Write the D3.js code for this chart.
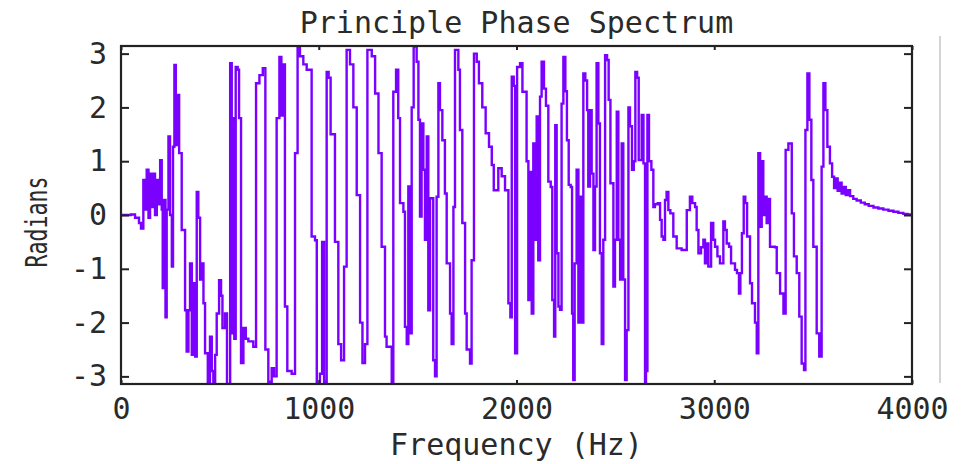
<!DOCTYPE html>
<html>
<head>
<meta charset="utf-8">
<script src="https://cdn.jsdelivr.net/npm/d3@7"></script>
<style>
  html, body { margin: 0; padding: 0; background: #ffffff; }
  svg { display: block; }
  text { font-family: "DejaVu Sans Mono", "Liberation Mono", monospace; fill: #2a2a2a; }
</style>
</head>
<body>
<svg id="chart" width="961" height="464"></svg>
<script>
// ---- data ----
const titleText = "Principle Phase Spectrum";
const xLabelText = "Frequency (Hz)";
const yLabelText = "Radians";
const xTickValues = [0, 1000, 2000, 3000, 4000];
const yTickValues = [-3, -2, -1, 0, 1, 2, 3];

const freqHz = [
  0, 50, 71, 91, 101, 113, 122, 130, 139, 147, 155, 164, 172, 181, 189, 198, 206, 211, 218, 225,
  231, 240, 248, 257, 263, 270, 277, 284, 294, 307, 324, 332, 341, 349, 358, 366, 375, 383, 391, 400,
  408, 417, 425, 439, 450, 459, 467, 476, 484, 496, 506, 513, 526, 536, 552, 560, 568, 573, 580, 590,
  597, 607, 619, 631, 644,
  669, 683, 700, 717, 730, 745, 762, 774, 787, 801, 811, 818, 829, 841, 863, 880, 893, 905, 922, 939,
  964, 981, 990, 1006, 1017, 1027, 1040, 1050, 1060, 1082, 1099, 1113, 1128, 1141, 1158, 1175, 1192, 1209, 1221, 1234,
  1246, 1268, 1285, 1302, 1318,
  1335, 1343, 1369, 1377, 1391, 1402, 1411, 1428, 1436, 1445, 1453, 1461, 1470, 1480, 1495, 1504, 1512, 1520, 1529, 1537,
  1546, 1554, 1563, 1579, 1588, 1596, 1605, 1613, 1625, 1638, 1647, 1664, 1672, 1681, 1689, 1706, 1714, 1726, 1740, 1748,
  1765, 1773, 1785, 1799, 1810, 1827, 1844, 1861, 1875, 1885, 1908, 1925, 1942, 1959, 1969, 1976, 1986, 1993, 2003,
  2018, 2030, 2051, 2060, 2068, 2077, 2085, 2094, 2102, 2110, 2119, 2127, 2139, 2149, 2161, 2173, 2181, 2190, 2196, 2203,
  2212, 2220, 2228, 2237, 2247, 2255, 2264, 2274, 2281, 2287, 2294, 2304, 2313, 2321, 2330, 2338, 2348, 2357, 2363, 2372,
  2380, 2389, 2397, 2405, 2414, 2422, 2431, 2439, 2448, 2458, 2466, 2475, 2490, 2498, 2507, 2515, 2524, 2532, 2540, 2549,
  2557, 2566, 2574, 2584, 2593, 2601, 2610, 2618, 2633, 2642, 2650, 2655, 2662, 2670, 2682, 2692,
  2700, 2714, 2726, 2734, 2743, 2751, 2759, 2768, 2778, 2793, 2810, 2835, 2861, 2877, 2889, 2903, 2911, 2920, 2933, 2945,
  2953, 2962, 2970, 2984, 2995, 3004, 3016, 3029, 3046, 3054, 3063, 3075, 3085, 3105, 3115, 3125, 3132, 3140, 3149, 3157,
  3166, 3181, 3191, 3206, 3215, 3223, 3232, 3240, 3248, 3257, 3265, 3274, 3282, 3307, 3316, 3333, 3350, 3361, 3375,
  3383, 3392, 3403, 3417, 3430, 3442, 3454, 3461, 3471, 3481, 3491, 3501, 3518, 3531, 3543, 3552, 3562, 3572, 3585, 3596,
  3606, 3616, 3624, 3634, 3644, 3655, 3665, 3675, 3687, 3703, 3720, 3741, 3761, 3781, 3805, 3830, 3855, 3881, 3906, 3931,
  3956, 3977, 4000
];

const phaseRad = [
  0, 0.01, -0.05, -0.15, -0.25, 0.65, 0.1, 0.84, -0.05, 0.77, 0.15, 0.77, 0.0, 0.65, 0.2, 1.02, 0.1, -1.36, 0.28, -1.9,
  0.1, 1.46, 0.0, -0.96, 1.27, 2.79, 1.3, 2.23, 1.15, -0.28, -1.77, -2.54, -1.77, -0.9, -2.6, -1.27, -2.63, 0.43, -0.05, -1.2,
  -0.9, -1.64, -2.57, -3.14, -2.26, -2.9, -3.14, -2.6, -1.83, -1.21, -1.5, -2.1, -1.83, -3.14, 2.82, -2.2, 1.8, -2.3, 2.75, 2.7,
  1.8, -2.75, -2.1, -2.3, -2.35,
  -2.45, 2.45, 2.6, 2.73, -2.5, -3.1, -2.85, -3.0, 1.8, 2.94, 1.85, 2.8, -1.7, -2.9, -2.95, 1.15, 3.13, 2.95, 2.8, 2.7,
  -0.4, -0.47, -3.14, -2.95, -0.5, -3.1, 2.66, 2.55, 1.5, -0.5, -2.4, -2.7, -0.96, 3.07, 2.8, 2.0, 0.37, -2.0, -2.75, -2.4,
  3.07, 2.95, 2.26, 1.15, -0.59,
  -2.26, -2.45, -3.14, 2.29, 2.7, 1.8, 0.22, 0.06, -2.08, -2.4, 0.53, -2.2, 2.0, 3.13, 2.85, 1.77, -0.03, 1.7, 0.84, -0.46,
  1.46, -1.77, 0.31, -2.7, -3.0, 0.34, 2.45, 1.95, 1.39, 0.4, -0.9, -1.83, -2.4, 0.15, 3.07, 2.7, 1.58, -0.15, -1.83, -2.5,
  -2.76, -0.84, 3.0, 2.85, 2.45, 2.0, 1.52, 1.27, 0.93, 0.46, 0.87, 0.72, 0.46, -1.64, -1.9, 2.57, 2.4, -2.57, 2.75,
  2.82, 2.29, 1.0, -1.58, 0.8, -1.83, 1.33, -0.46, 1.83, -0.84, 2.2, 2.85, 2.35, 2.03, 0.62, 0.52, -1.58, -2.26, 1.67, -0.71,
  -1.7, -1.76, 2.07, 2.94, 2.3, 1.39, 0.56, 0.52, -1.83, -3.07, -0.9, 0.84, -2.0, 0.34, -2.0, 2.63, 2.5, 1.95, 0.53, 1.95,
  0.77, -0.65, 0.53, 2.82, 1.7, -0.71, -2.4, -0.46, 2.97, 2.88, 2.14, 0.59, -1.33, -0.46, 1.92, -0.46, -1.2, 1.33, -1.2, -3.07,
  -2.14, 2.0, 1.65, 0.84, 1.0, 2.66, 2.55, 1.02, 1.86, 0.96, -3.14, -2.9, 1.86, 1.0, 0.84, 0.15,
  0.2, 0.22, -0.09, -0.4, -0.46, 0.28, 0.43, 0.09, 0.03, -0.4, -0.62, -0.65, 0.09, 0.34, 0.22, 0.15, -0.28, -0.71, -0.6, -0.46,
  -0.9, -0.53, -0.96, -0.15, -0.46, -0.59, -0.77, -0.9, -0.12, -0.28, -0.53, -0.59, -0.9, -1.02, -1.08, -1.46, -1.08, -0.34, 0.34, 0.22,
  -0.4, -1.27, -1.64, -2.0, -2.57, 1.15, -0.22, 1.0, 0.0, 0.34, -0.15, 0.3, -0.59, -0.6, -1.08, -1.46, -1.83, 1.21, 1.33,
  1.33, 0.03, -0.77, -1.08, -1.89, -2.76, -2.88, 1.58, 2.63, 1.77, 0.65, -0.59, -2.2, -2.63, 0.9, 2.45, 1.95, 1.27, 0.96, 0.71,
  0.5, 0.68, 0.45, 0.6, 0.4, 0.52, 0.37, 0.46, 0.35, 0.3, 0.27, 0.23, 0.2, 0.17, 0.14, 0.12, 0.1, 0.08, 0.06, 0.04,
  0.02, 0.01, 0.0
];

const series = freqHz.map((f, i) => ({ f, v: phaseRad[i] }));

// ---- layout ----
const svg = d3.select("#chart");
const plotL = 121, plotR = 912, plotT = 46, plotB = 384;
const fontFam = "DejaVu Sans Mono, Liberation Mono, monospace";

const x = d3.scaleLinear().domain([0, 4000]).range([plotL, plotR]);
const y = d3.scaleLinear().domain([-Math.PI, Math.PI]).range([plotB, plotT]);

// separator line at right edge of image
svg.append("line")
  .attr("x1", 940).attr("x2", 940).attr("y1", 36).attr("y2", 383)
  .attr("stroke", "#d4d4d4").attr("stroke-width", 2);

// clip
svg.append("clipPath").attr("id", "plotclip")
  .append("rect").attr("x", plotL).attr("y", plotT).attr("width", plotR - plotL).attr("height", plotB - plotT);

// data line
const line = d3.line()
  .x(d => x(d.f))
  .y(d => y(d.v))
  .curve(d3.curveStepAfter);

svg.append("path")
  .datum(series)
  .attr("clip-path", "url(#plotclip)")
  .attr("fill", "none")
  .attr("stroke", "#7a00ff")
  .attr("stroke-width", 2.4)
  .attr("stroke-linejoin", "miter")
  .attr("d", line);

// axes
function styleAxis(g) {
  g.select(".domain").remove();
  g.selectAll(".tick line").attr("stroke", "#222").attr("stroke-width", 2);
  g.selectAll(".tick text")
    .attr("font-family", fontFam)
    .attr("font-size", 30).attr("fill", "#2a2a2a");
}

svg.append("g")
  .attr("transform", `translate(0,${plotB})`)
  .call(d3.axisBottom(x).tickValues(xTickValues).tickSize(-4).tickPadding(14).tickFormat(d => String(d)))
  .call(styleAxis);

svg.append("g")
  .attr("transform", `translate(0,${plotT})`)
  .call(d3.axisTop(x).tickValues(xTickValues).tickSize(-4).tickFormat(""))
  .call(styleAxis);

svg.append("g")
  .attr("transform", `translate(${plotL},0)`)
  .call(d3.axisLeft(y).tickValues(yTickValues).tickSize(-8).tickPadding(14).tickFormat(d => String(d)))
  .call(styleAxis);

svg.append("g")
  .attr("transform", `translate(${plotR},0)`)
  .call(d3.axisRight(y).tickValues(yTickValues).tickSize(-8).tickFormat(""))
  .call(styleAxis);

// frame
svg.append("rect")
  .attr("x", plotL).attr("y", plotT).attr("width", plotR - plotL).attr("height", plotB - plotT)
  .attr("fill", "none").attr("stroke", "#222").attr("stroke-width", 2.2);

// title
svg.append("text")
  .attr("x", (plotL + plotR) / 2).attr("y", 33)
  .attr("text-anchor", "middle").attr("font-size", 30).attr("font-family", fontFam)
  .text(titleText);

// x label
svg.append("text")
  .attr("x", (plotL + plotR) / 2).attr("y", 455)
  .attr("text-anchor", "middle").attr("font-size", 30).attr("font-family", fontFam)
  .text(xLabelText);

// y label (compressed along its direction)
svg.append("text")
  .attr("transform", `translate(47,${(plotT + plotB) / 2 + 7}) rotate(-90) scale(0.72,1)`)
  .attr("text-anchor", "middle").attr("font-size", 30).attr("font-family", fontFam)
  .text(yLabelText);
</script>
</body>
</html>
